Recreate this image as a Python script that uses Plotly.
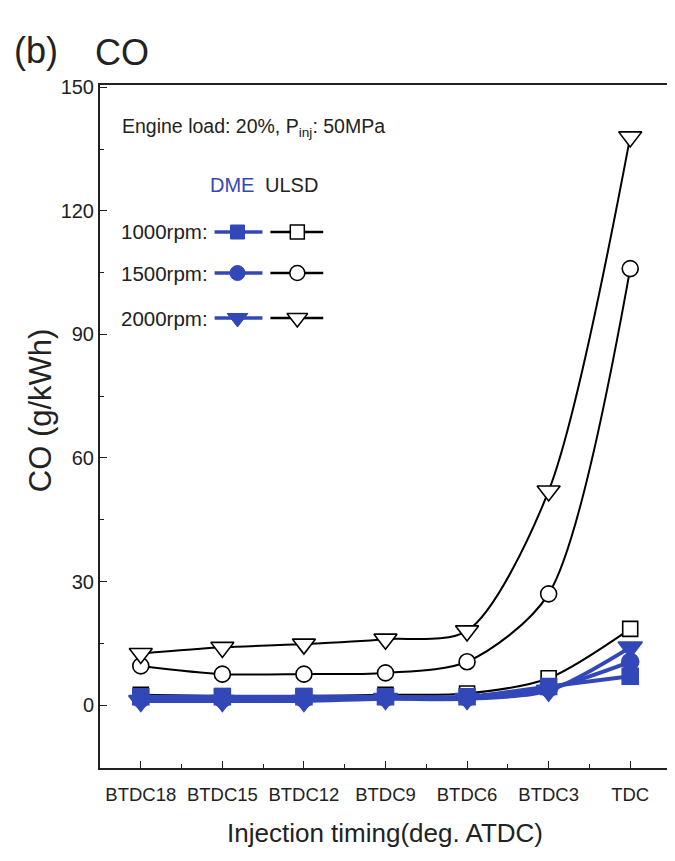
import plotly.graph_objects as go

categories = ["BTDC18", "BTDC15", "BTDC12", "BTDC9", "BTDC6", "BTDC3", "TDC"]
ulsd_1000 = [2.5, 2.2, 2.2, 2.5, 2.8, 6.5, 18.5]
ulsd_1500 = [9.5, 7.5, 7.5, 7.8, 10.5, 27, 106]
ulsd_2000 = [12.5, 14, 14.8, 16, 18, 52, 138]
dme_1000 = [2, 2, 2, 2, 2, 4.5, 7]
dme_1500 = [1.5, 1.5, 1.5, 1.8, 1.8, 4, 10.5]
dme_2000 = [1, 1, 1, 1.5, 1.5, 3.5, 14]
y_ticks = [0, 30, 60, 90, 120, 150]

BLUE = "#3348B8"
FONT = "Liberation Sans, Arial, sans-serif"
xs = list(range(len(categories)))

# plot area in screen pixels (page body has an 8px margin)
OFF = 8
L, R, T, B = 100, 673, 85, 768
SW, SH = 675, 861
FW, FH = SW - OFF, SH - 2 * OFF

def px(x):
    return (x - L) / (R - L)

def py(y):
    return (B - y) / (B - T)

fig = go.Figure()

def add(y, sym, size, color, fill, lw):
    fig.add_trace(go.Scatter(
        x=xs, y=y, mode="lines+markers",
        line=dict(color=color, width=lw, shape="spline", smoothing=0.8),
        marker=dict(symbol=sym, size=size, color=fill,
                    line=dict(color=color, width=1.6)),
        showlegend=False, cliponaxis=False))

add(ulsd_1000, "square", 15, "black", "white", 2)
add(ulsd_1500, "circle", 16, "black", "white", 2)
add(ulsd_2000, "triangle-down", 20, "black", "white", 2)
add(dme_1000, "square", 16, BLUE, BLUE, 4)
add(dme_1500, "circle", 17, BLUE, BLUE, 4)
add(dme_2000, "triangle-down", 21, BLUE, BLUE, 4)

# legend samples in pixel-like overlay axes
rows_y = [232, 273, 318]
syms = [("square", 14), ("circle", 15), ("triangle-down", 18)]
for ry, (s, sz) in zip(rows_y, syms):
    fig.add_trace(go.Scatter(x=[215, 238, 263], y=[ry, ry, ry], xaxis="x2", yaxis="y2",
                             mode="lines", line=dict(color=BLUE, width=3.5), showlegend=False))
    fig.add_trace(go.Scatter(x=[238], y=[ry], xaxis="x2", yaxis="y2", mode="markers",
                             marker=dict(symbol=s, size=sz, color=BLUE, line=dict(color=BLUE, width=1)),
                             showlegend=False))
    fig.add_trace(go.Scatter(x=[271, 298, 324], y=[ry, ry, ry], xaxis="x2", yaxis="y2",
                             mode="lines", line=dict(color="black", width=2.5), showlegend=False))
    fig.add_trace(go.Scatter(x=[298], y=[ry], xaxis="x2", yaxis="y2", mode="markers",
                             marker=dict(symbol=s, size=sz, color="white", line=dict(color="black", width=1.5)),
                             showlegend=False))

ann = []
def txt(x, y, t, size, color="#222", xanchor="left", angle=0):
    ann.append(dict(x=px(x), y=py(y), xref="paper", yref="paper", text=t, showarrow=False,
                    font=dict(family=FONT, size=size, color=color),
                    xanchor=xanchor, yanchor="middle", textangle=angle))

txt(12, 50, "(b)", 36)
txt(93, 52, "CO", 36)
txt(120, 128, "Engine load: 20%, P<sub>inj</sub>: 50MPa", 19.5)
txt(232, 185, "DME", 20, BLUE, "center")
txt(292, 185, "ULSD", 20, "#222", "center")
for ry, lab in zip(rows_y, ["1000rpm:", "1500rpm:", "2000rpm:"]):
    txt(119, ry, lab, 20.5)
txt(40, 410, "CO (g/kWh)", 31, "#222", "center", -90)
txt(386, 833, "Injection timing(deg. ATDC)", 26, "#222", "center")

fig.update_layout(
    width=FW, height=FH,
    margin=dict(l=L - OFF, r=(OFF + FW) - R, t=T - OFF, b=(OFF + FH) - B),
    paper_bgcolor="white", plot_bgcolor="white",
    annotations=ann,
    xaxis=dict(range=[-0.5, 6.5], tickmode="array", tickvals=xs, ticktext=categories,
               ticks="inside", ticklen=7, tickwidth=1.3, tickcolor="#222",
               minor=dict(tickvals=[i + 0.5 for i in xs[:-1]], ticks="inside", ticklen=4,
                          tickcolor="#222", tickwidth=1.2),
               showline=True, linecolor="#222", linewidth=2, mirror=True,
               showgrid=False, zeroline=False, ticklabelstandoff=9,
               tickfont=dict(family=FONT, size=18.5, color="#222")),
    yaxis=dict(range=[-15.3, 150.6], tickmode="array", tickvals=y_ticks,
               ticks="inside", ticklen=7, tickwidth=1.3, tickcolor="#222",
               minor=dict(tickvals=[15, 45, 75, 105, 135], ticks="inside", ticklen=4,
                          tickcolor="#222", tickwidth=1.2),
               showline=True, linecolor="#222", linewidth=2, mirror=True,
               showgrid=False, zeroline=False,
               tickfont=dict(family=FONT, size=20, color="#222")),
    xaxis2=dict(range=[L, R], overlaying="x", visible=False, fixedrange=True),
    yaxis2=dict(range=[B, T], overlaying="y", visible=False, fixedrange=True),
)

fig.write_html("out.html")
